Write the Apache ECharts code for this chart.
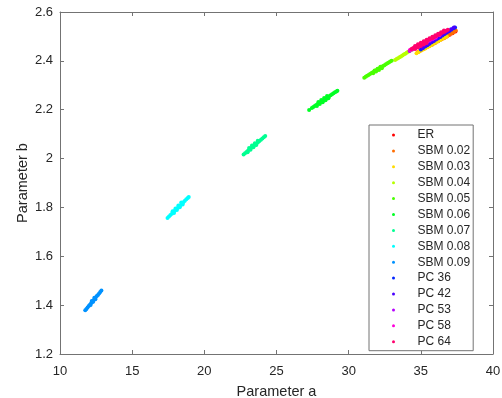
<!DOCTYPE html>
<html>
<head>
<meta charset="utf-8">
<script src="https://cdn.jsdelivr.net/npm/echarts@6/dist/echarts.min.js"></script>
<style>html,body{margin:0;padding:0;background:#fff}#c{width:502px;height:398px}</style>
</head>
<body>
<div id="c"></div>
<script>
const seriesNames = ['ER','SBM 0.02','SBM 0.03','SBM 0.04','SBM 0.05','SBM 0.06','SBM 0.07','SBM 0.08','SBM 0.09','PC 36','PC 42','PC 53','PC 58','PC 64'];
const colors = ['#FF0000','#FF6D00','#FFDB00','#B6FF00','#49FF00','#00FF24','#00FF92','#00FFFF','#0092FF','#0024FF','#4900FF','#B600FF','#FF00DB','#FF006D'];
const xTicks = [10,15,20,25,30,35,40];
const yTicks = [1.2,1.4,1.6,1.8,2.0,2.2,2.4,2.6];

const ER = [[35.8,2.467],[36.0,2.474],[36.2,2.480],[36.4,2.487],[36.6,2.493],[36.8,2.500],[37.0,2.507],[37.2,2.513],[37.4,2.520]];
const SBM002 = [[34.8,2.436],[34.9,2.439],[35.0,2.443],[35.1,2.446],[35.2,2.449],[35.3,2.453],[35.4,2.456],[35.5,2.459],[35.6,2.462],[35.7,2.466],[35.8,2.469],[35.9,2.472],[36.0,2.476],[36.1,2.479],[36.2,2.482],[36.3,2.486],[36.4,2.489],[36.5,2.492],[36.6,2.495],[36.7,2.499],[36.8,2.502],[36.9,2.505],[37.0,2.509],[37.1,2.512],[37.2,2.515],[37.3,2.519],[37.42,2.524]];
const SBM003 = [[34.7,2.431],[34.85,2.436],[35.0,2.441],[35.15,2.446],[35.3,2.451],[35.45,2.456],[35.6,2.460],[35.75,2.465],[35.9,2.470],[36.05,2.475],[36.2,2.480],[36.35,2.485],[36.5,2.490],[36.65,2.495],[36.8,2.500]];
const SBM004 = [[33.22,2.404],[33.32,2.408],[33.42,2.411],[33.52,2.415],[33.62,2.418],[33.72,2.422],[33.82,2.426],[33.92,2.429],[34.02,2.433],[34.12,2.437],[34.22,2.440],[34.32,2.444],[34.42,2.447],[34.55,2.452],[34.7,2.457],[34.9,2.464]];
const SBM005 = [[31.08,2.331],[31.18,2.335],[31.28,2.339],[31.38,2.342],[31.48,2.346],[31.58,2.350],[31.68,2.353],[31.78,2.357],[31.88,2.361],[31.98,2.364],[32.08,2.368],[32.18,2.372],[32.28,2.375],[32.38,2.379],[32.48,2.382],[32.58,2.386],[32.68,2.390],[32.78,2.393],[32.88,2.397],[32.98,2.400],
  [31.7,2.349],[31.9,2.356],[32.1,2.363],[32.3,2.370],[31.8,2.361],[32.0,2.368],[32.2,2.376]];
const SBM006 = [[27.26,2.199],[27.45,2.207],[27.55,2.211],[27.65,2.215],[27.75,2.219],[27.85,2.223],[27.95,2.227],[28.05,2.231],[28.15,2.235],[28.25,2.239],[28.35,2.243],[28.45,2.247],[28.55,2.251],[28.65,2.255],[28.75,2.259],[28.85,2.263],[28.95,2.267],[29.05,2.271],[29.15,2.275],[29.22,2.278],
  [27.8,2.215],[28.0,2.223],[28.2,2.231],[28.4,2.239],[28.6,2.247],[27.9,2.232],[28.1,2.240],[28.3,2.248],[28.5,2.256]];
const SBM007 = [[22.72,2.017],[22.82,2.022],[22.92,2.027],[23.02,2.032],[23.12,2.037],[23.22,2.042],[23.32,2.047],[23.42,2.052],[23.52,2.057],[23.62,2.062],[23.72,2.067],[23.82,2.072],[23.92,2.077],[24.02,2.082],[24.12,2.087],[24.22,2.092],
  [23.0,2.026],[23.2,2.036],[23.4,2.046],[23.6,2.056],[23.1,2.043],[23.3,2.053],[23.5,2.063],[23.7,2.073]];
const SBM008 = [[17.45,1.757],[17.55,1.763],[17.65,1.769],[17.75,1.774],[17.85,1.780],[17.95,1.786],[18.05,1.792],[18.15,1.798],[18.25,1.804],[18.35,1.809],[18.45,1.815],[18.55,1.821],[18.65,1.827],[18.75,1.833],[18.85,1.839],[18.92,1.843],
  [17.9,1.777],[18.1,1.789],[18.3,1.801],[18.5,1.812],[17.8,1.784],[18.0,1.796],[18.2,1.808],[18.4,1.820]];
const SBM009 = [[11.75,1.379],[11.83,1.384],[11.91,1.390],[11.99,1.396],[12.07,1.402],[12.15,1.408],[12.23,1.413],[12.31,1.419],[12.39,1.425],[12.47,1.431],[12.55,1.437],[12.63,1.442],[12.71,1.448],[12.79,1.454],[12.87,1.460],
  [12.12,1.401],[12.3,1.414],[12.45,1.424],[12.2,1.417],[12.38,1.430]];
const PC36 = [[35.0,2.447],[35.15,2.453],[35.3,2.459],[35.45,2.464],[35.6,2.470],[35.75,2.476],[35.9,2.481],[36.05,2.487],[36.2,2.493],[36.35,2.498],[36.5,2.504],[36.65,2.510],[36.8,2.516],[36.95,2.521],[37.1,2.527],[37.25,2.533],[37.37,2.537]];
const PC42 = [[35.1,2.453],[35.3,2.461],[35.5,2.468],[35.7,2.476],[35.9,2.483],[36.1,2.491],[36.3,2.499],[36.5,2.506],[36.7,2.514],[36.9,2.521],[37.1,2.529],[37.3,2.537]];
const PC53 = [[34.22,2.440],[34.4,2.446],[34.6,2.452],[34.8,2.458],[35.0,2.464],[35.2,2.470],[35.4,2.476],[35.6,2.482],[35.8,2.488],[36.0,2.494]];
const PC58 = [[34.25,2.444],[34.45,2.450],[34.65,2.456],[34.85,2.462],[35.05,2.468],[35.25,2.474],[35.45,2.480],[35.65,2.486],[35.85,2.492],[36.05,2.498],[36.3,2.506]];
const PC64 = [[34.35,2.449],[34.47,2.453],[34.59,2.456],[34.71,2.460],[34.83,2.464],[34.95,2.468],[35.07,2.471],[35.19,2.475],[35.31,2.479],[35.43,2.482],[35.55,2.486],[35.67,2.490],[35.79,2.493],[35.91,2.497],[36.03,2.501],[36.15,2.505],[36.27,2.508],[36.39,2.512],[36.51,2.516],[36.63,2.519],[36.75,2.523],[36.87,2.527],
  [34.6,2.461],[34.8,2.468],[35.0,2.474],[35.2,2.480],[35.4,2.486],[35.6,2.493],[35.8,2.499],[36.0,2.505],[36.2,2.511],[36.4,2.517],[36.6,2.524],
  [34.6,2.449],[34.8,2.455],[35.0,2.461],[35.2,2.467],[35.4,2.473]];

const seriesData = [ER,SBM002,SBM003,SBM004,SBM005,SBM006,SBM007,SBM008,SBM009,PC36,PC42,PC53,PC58,PC64];

const axisColor = '#737373';
const textColor = '#262626';
const font = 'Liberation Sans, Arial, sans-serif';

const chart = echarts.init(document.getElementById('c'), null, {renderer:'canvas'});
chart.setOption({
  animation: false,
  backgroundColor: '#fff',
  grid: {left: 60, right: 9, top: 12, bottom: 44, containLabel: false, outerBoundsMode: 'none'},
  xAxis: [{
    type: 'value', min: xTicks[0], max: xTicks[xTicks.length-1], interval: 5, position: 'bottom',
    name: 'Parameter a', nameLocation: 'middle', nameGap: 30, nameMoveOverlap: false,
    nameTextStyle: {color: textColor, fontSize: 14.5, fontFamily: font},
    axisLine: {show: true, lineStyle: {color: axisColor, width: 1}},
    axisTick: {show: true, inside: true, length: 4, lineStyle: {color: axisColor}},
    axisLabel: {color: textColor, fontSize: 13, fontFamily: font, margin: 11},
    splitLine: {show: false}
  },{
    type: 'value', min: xTicks[0], max: xTicks[xTicks.length-1], interval: 5, position: 'top',
    axisLine: {show: true, onZero: false, lineStyle: {color: axisColor, width: 1}},
    axisTick: {show: true, inside: true, length: 4, lineStyle: {color: axisColor}},
    axisLabel: {show: false}, splitLine: {show: false}
  }],
  yAxis: [{
    type: 'value', min: yTicks[0], max: yTicks[yTicks.length-1], interval: 0.2, position: 'left',
    name: 'Parameter b', nameLocation: 'middle', nameGap: 30, nameMoveOverlap: false,
    nameTextStyle: {color: textColor, fontSize: 14.5, fontFamily: font},
    axisLine: {show: true, lineStyle: {color: axisColor, width: 1}},
    axisTick: {show: true, inside: true, length: 4, lineStyle: {color: axisColor}},
    axisLabel: {color: textColor, fontSize: 13, fontFamily: font, margin: 7},
    splitLine: {show: false}
  },{
    type: 'value', min: yTicks[0], max: yTicks[yTicks.length-1], interval: 0.2, position: 'right',
    axisLine: {show: true, onZero: false, lineStyle: {color: axisColor, width: 1}},
    axisTick: {show: true, inside: true, length: 4, lineStyle: {color: axisColor}},
    axisLabel: {show: false}, splitLine: {show: false}
  }],
  legend: {
    orient: 'vertical', left: 369, top: 125,
    data: seriesNames, icon: 'circle', itemWidth: 38, itemHeight: 3, itemGap: 3.9,
    padding: [4, 3, 3, 23],
    borderColor: axisColor, borderWidth: 1, backgroundColor: '#fff',
    textStyle: {color: textColor, fontSize: 12, fontFamily: font, lineHeight: 12},
    selectedMode: false
  },
  series: seriesNames.map((n, i) => ({
    name: n, type: 'scatter', data: seriesData[i], symbol: 'circle', symbolSize: 4,
    xAxisIndex: 0, yAxisIndex: 0,
    itemStyle: {color: colors[i], opacity: 1},
    emphasis: {disabled: true}
  }))
});
</script>
</body>
</html>
